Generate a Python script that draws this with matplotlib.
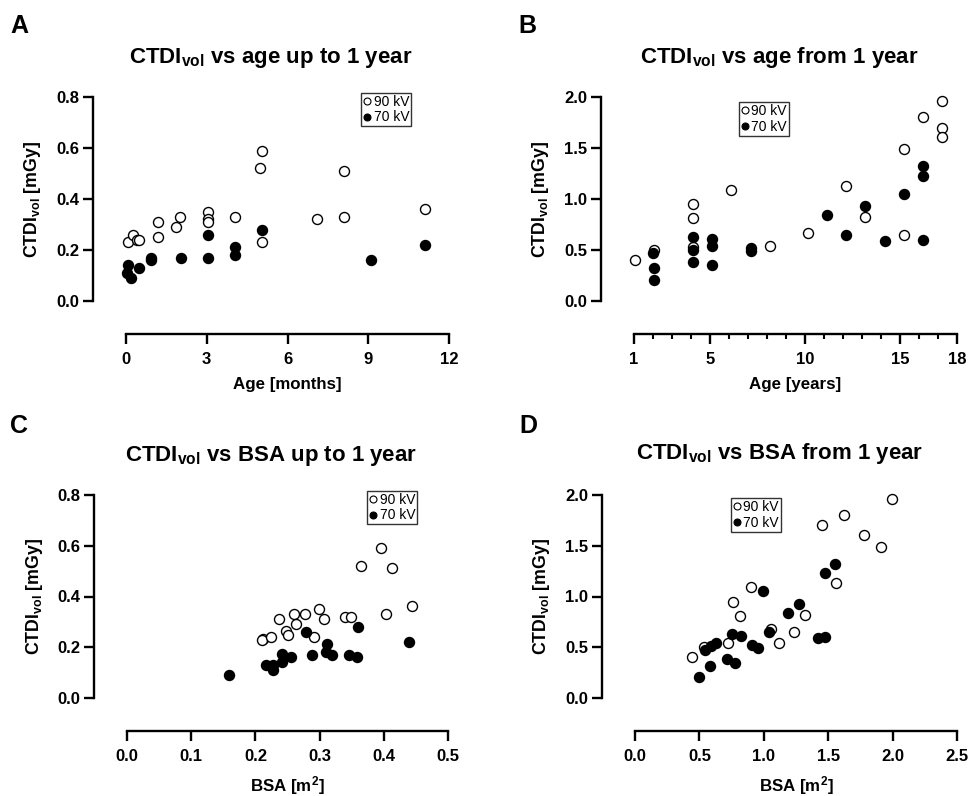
import matplotlib
matplotlib.use('Agg')
import matplotlib.pyplot as plt
from matplotlib.lines import Line2D

plt.rcParams['font.family'] = ['Liberation Sans', 'DejaVu Sans']
plt.rcParams['mathtext.fontset'] = 'custom'
plt.rcParams['mathtext.rm'] = 'Liberation Sans:bold'
plt.rcParams['mathtext.bf'] = 'Liberation Sans:bold'
plt.rcParams['mathtext.it'] = 'Liberation Sans:bold'

# panel A: CTDIvol vs age (months), up to 1 year
a_age_90 = [0.06, 0.27, 0.4, 0.5, 1.18, 1.18, 1.87, 2.0, 3.03, 3.03, 3.03,
            4.05, 4.99, 5.07, 5.07, 7.08, 8.09, 8.09, 11.12]
a_ctdi_90 = [0.23, 0.26, 0.24, 0.24, 0.25, 0.31, 0.29, 0.33, 0.35, 0.32, 0.31,
             0.33, 0.52, 0.59, 0.23, 0.32, 0.51, 0.33, 0.36]
a_age_70 = [0.06, 0.03, 0.17, 0.48, 0.93, 0.93, 2.03, 3.03, 3.03, 4.05, 4.05,
            5.07, 9.09, 11.12]
a_ctdi_70 = [0.14, 0.11, 0.09, 0.13, 0.17, 0.16, 0.17, 0.26, 0.17, 0.21, 0.18,
             0.28, 0.16, 0.22]

# panel B: CTDIvol vs age (years), from 1 year
b_age_90 = [1.05, 2.05, 4.09, 4.09, 4.09, 6.12, 8.14, 10.14, 12.18, 13.18,
            15.19, 15.19, 16.19, 17.19, 17.19, 17.19]
b_ctdi_90 = [0.40, 0.50, 0.95, 0.81, 0.53, 1.09, 0.54, 0.67, 1.13, 0.82,
             1.49, 0.65, 1.80, 1.96, 1.70, 1.61]
b_age_70 = [2.0, 2.05, 2.05, 4.09, 4.09, 4.09, 5.12, 5.12, 5.12, 7.14, 7.14,
            11.16, 12.18, 13.18, 14.19, 15.19, 16.19, 16.19, 16.19]
b_ctdi_70 = [0.47, 0.32, 0.21, 0.63, 0.50, 0.38, 0.61, 0.54, 0.35, 0.52, 0.49,
             0.84, 0.65, 0.93, 0.59, 1.05, 1.32, 1.23, 0.60]

# panel C: CTDIvol vs BSA, up to 1 year
c_bsa_90 = [0.212, 0.210, 0.224, 0.237, 0.247, 0.250, 0.260, 0.264, 0.278,
            0.292, 0.299, 0.307, 0.340, 0.349, 0.364, 0.395, 0.403, 0.412, 0.444]
c_ctdi_90 = [0.232, 0.23, 0.241, 0.311, 0.265, 0.249, 0.332, 0.29, 0.332,
             0.241, 0.351, 0.311, 0.321, 0.321, 0.522, 0.591, 0.330, 0.511, 0.361]
c_bsa_70 = [0.159, 0.216, 0.227, 0.228, 0.241, 0.242, 0.255, 0.279, 0.288,
            0.311, 0.310, 0.320, 0.346, 0.358, 0.360, 0.439]
c_ctdi_70 = [0.092, 0.131, 0.131, 0.111, 0.174, 0.142, 0.161, 0.261, 0.171,
             0.212, 0.181, 0.171, 0.171, 0.161, 0.281, 0.220]

# panel D: CTDIvol vs BSA, from 1 year
d_bsa_90 = [0.445, 0.535, 0.724, 0.763, 0.814, 0.897, 1.055, 1.117, 1.236,
            1.318, 1.453, 1.559, 1.626, 1.779, 1.908, 1.993]
d_ctdi_90 = [0.40, 0.50, 0.54, 0.95, 0.81, 1.09, 0.675, 0.54, 0.65, 0.82,
             1.70, 1.13, 1.80, 1.61, 1.49, 1.96]
d_bsa_70 = [0.499, 0.543, 0.582, 0.589, 0.626, 0.716, 0.750, 0.776, 0.820,
            0.905, 0.957, 0.995, 1.042, 1.189, 1.272, 1.422, 1.474, 1.476, 1.549]
d_ctdi_70 = [0.21, 0.47, 0.32, 0.51, 0.54, 0.38, 0.63, 0.34, 0.61, 0.52, 0.49,
             1.05, 0.65, 0.84, 0.93, 0.59, 0.60, 1.23, 1.32]

W, H = 969, 796
fig = plt.figure(figsize=(W / 100, H / 100), dpi=100)


def make_axes(x0, x1, ytop, ybot):
    # pixel box of the data area -> figure fractions
    return fig.add_axes([x0 / W, 1 - ybot / H, (x1 - x0) / W, (ybot - ytop) / H])


def style(ax, xlim, ylim, yticks, ylabel_x, xlabel):
    ax.set_xlim(*xlim)
    ax.set_ylim(*ylim)
    ax.set_yticks(yticks)
    ax.set_yticklabels(['%.1f' % t for t in yticks])
    for s in ['top', 'right']:
        ax.spines[s].set_visible(False)
    ax.spines['left'].set_position(('outward', 23.5))
    ax.spines['bottom'].set_position(('outward', 23.5))
    for s in ['left', 'bottom']:
        ax.spines[s].set_linewidth(1.7)
    ax.tick_params(which='major', length=7, width=1.7, labelsize=12)
    ax.tick_params(which='minor', length=3.5, width=1.5)
    ax.tick_params(axis='y', pad=3)
    ax.tick_params(axis='x', pad=6)
    for lab in ax.get_xticklabels() + ax.get_yticklabels():
        lab.set_fontweight('bold')
    ax.set_ylabel(r'CTDI$_{\mathbf{vol}}$ [mGy]', fontsize=12.8, fontweight='bold')
    ax.yaxis.set_label_coords(ylabel_x, 0.5)
    ax.set_xlabel(xlabel, fontsize=12.2, fontweight='bold')
    ax.xaxis.set_label_coords(0.5, -0.375)


def points(ax, x90, y90, x70, y70, leg_x, leg_y):
    ax.plot(x90, y90, 'o', ms=7.2, mfc='white', mec='black', mew=1.0, clip_on=False)
    ax.plot(x70, y70, 'o', ms=7.2, mfc='black', mec='black', mew=1.0, clip_on=False)
    handles = [Line2D([], [], ls='none', marker='o', ms=5, mfc='white', mec='black', mew=0.8),
               Line2D([], [], ls='none', marker='o', ms=5, mfc='black', mec='black', mew=0.8)]
    leg = ax.legend(handles, ['90 kV', '70 kV'], loc='upper left',
                    bbox_to_anchor=(leg_x, leg_y), fontsize=10, frameon=True,
                    fancybox=False, handlelength=0.5, handletextpad=0.25,
                    borderpad=0.15, labelspacing=0.1, borderaxespad=0)
    leg.get_frame().set_edgecolor('black')
    leg.get_frame().set_linewidth(1.0)


# A
axA = make_axes(126, 449, 97, 301)
points(axA, a_age_90, a_ctdi_90, a_age_70, a_ctdi_70, 0.728, 1.02)
style(axA, (0, 12), (0, 0.8), [0, 0.2, 0.4, 0.6, 0.8], -0.257, 'Age [months]')
axA.set_xticks([0, 3, 6, 9, 12])
for lab in axA.get_xticklabels():
    lab.set_fontweight('bold')

# B
axB = make_axes(634, 957, 97, 301)
points(axB, b_age_90, b_ctdi_90, b_age_70, b_ctdi_70, 0.325, 0.975)
style(axB, (1, 18), (0, 2.0), [0, 0.5, 1.0, 1.5, 2.0], -0.257, 'Age [years]')
axB.set_xticks([1, 5, 10, 15, 18])
axB.set_xticks([i for i in range(2, 18) if i not in (5, 10, 15)], minor=True)
for lab in axB.get_xticklabels():
    lab.set_fontweight('bold')

# C
axC = make_axes(127, 448, 495, 698)
points(axC, c_bsa_90, c_ctdi_90, c_bsa_70, c_ctdi_70, 0.748, 1.02)
style(axC, (0, 0.5), (0, 0.8), [0, 0.2, 0.4, 0.6, 0.8], -0.257, r'BSA [m$^{\mathbf{2}}$]')
axC.set_xticks([0, 0.1, 0.2, 0.3, 0.4, 0.5])
axC.set_xticklabels(['0.0', '0.1', '0.2', '0.3', '0.4', '0.5'], fontweight='bold')

# D
axD = make_axes(635, 957, 495, 698)
points(axD, d_bsa_90, d_ctdi_90, d_bsa_70, d_ctdi_70, 0.298, 0.985)
style(axD, (0, 2.5), (0, 2.0), [0, 0.5, 1.0, 1.5, 2.0], -0.257, r'BSA [m$^{\mathbf{2}}$]')
axD.set_xticks([0, 0.5, 1.0, 1.5, 2.0, 2.5])
axD.set_xticklabels(['0.0', '0.5', '1.0', '1.5', '2.0', '2.5'], fontweight='bold')

# titles and panel letters
titles = [r'CTDI$_{\mathbf{vol}}$ vs age up to 1 year',
          r'CTDI$_{\mathbf{vol}}$ vs age from 1 year',
          r'CTDI$_{\mathbf{vol}}$ vs BSA up to 1 year',
          r'CTDI$_{\mathbf{vol}}$ vs BSA from 1 year']
title_pos = [(271, 58), (779, 58), (271, 456), (780, 454)]
for t, (x, y) in zip(titles, title_pos):
    fig.text(x / W, 1 - y / H, t, ha='center', va='center', fontsize=16, fontweight='bold')

letters = ['A', 'B', 'C', 'D']
letter_pos = [(10, 26), (518, 26), (10, 426), (519, 426)]
for t, (x, y) in zip(letters, letter_pos):
    fig.text(x / W, 1 - y / H, t, ha='left', va='center', fontsize=18, fontweight='bold')

fig.savefig('out.png', dpi=100)
